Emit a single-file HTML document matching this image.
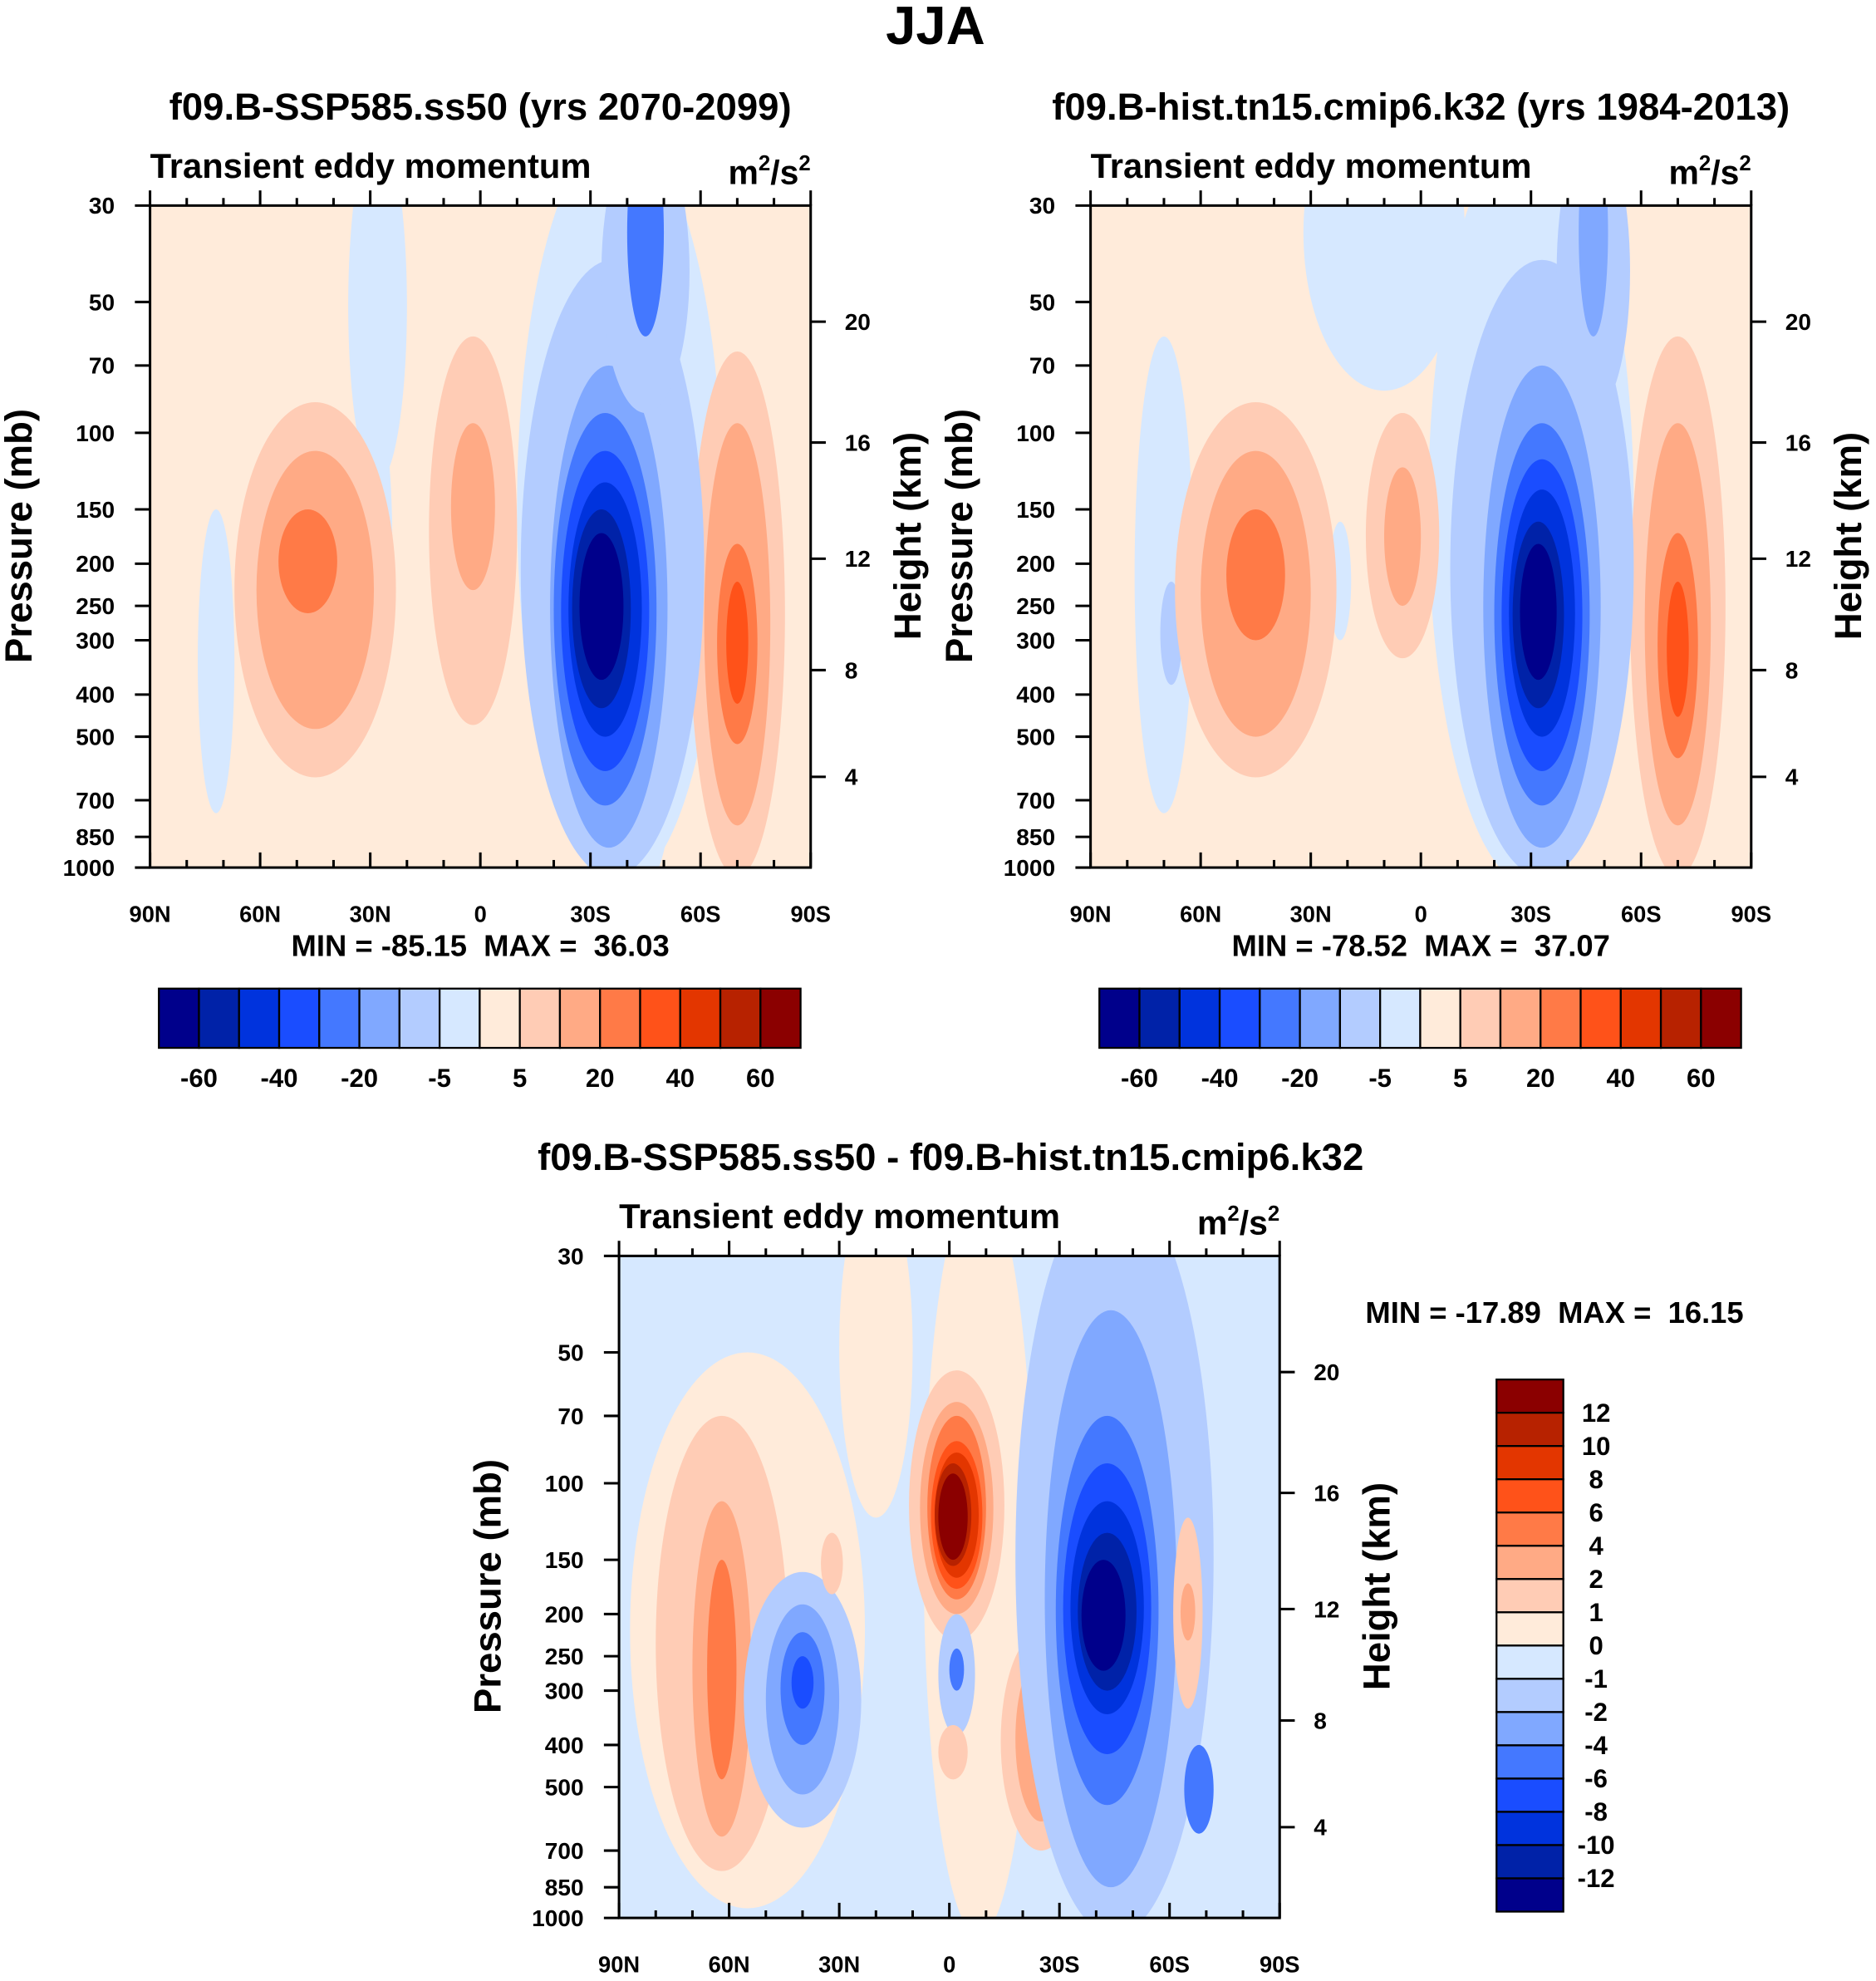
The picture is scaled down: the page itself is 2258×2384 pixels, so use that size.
<!DOCTYPE html>
<html><head><meta charset="utf-8"><style>
html,body{margin:0;padding:0;background:#fff}
svg{display:block}
text{font-family:"Liberation Sans",sans-serif;font-weight:bold;fill:#000;white-space:pre}
</style></head><body>
<svg id="fig" width="2258" height="2384" viewBox="0 0 1488 1571" xmlns="http://www.w3.org/2000/svg">
<text x="742" y="35" font-size="43" text-anchor="middle">JJA</text>
</svg>
<script>
// ----- chart data -----
const palette = ["#00008b","#0022a8","#0033dd","#1a4dff","#4478ff","#80a8ff","#b3ccff","#d6e8ff","#ffebda","#ffccb5","#ffaa85","#ff7a47","#ff5219","#e33600","#b72200","#8b0000"];
const pressureTicks = [30,50,70,100,150,200,250,300,400,500,700,850,1000];
const heightTicks = [20,16,12,8,4];
const latTicks = [90,60,30,0,-30,-60,-90];
const latLabels = ["90N","60N","30N","0","30S","60S","90S"];
const fullBarLabels = ["-60","-40","-20","-5","5","20","40","60"];
const diffBarLabels = ["12","10","8","6","4","2","1","0","-1","-2","-4","-6","-8","-10","-12"];

// Panel 1 (SSP585) blobs: center lat, half-width deg, top p, bottom p, color level
const p1Bg = 8;
const p1Lat  = [ -38, -45,  72,  28,  28,  45,  45,  47,   2,   2, -70, -70, -70, -70, -36, -35, -34, -34, -34, -33, -33, -45, -45];
const p1Half = [  28,  12,   5,   4,   8,  22,  16,   8,  12,   6,  13,  9,   5.5,  3,  25,  16,  14,  12,  10,   8,   6,  12,   5];
const p1Top  = [  20,  20, 150,  90,  20,  85, 110, 150,  60,  95,  65, 95, 180, 220,  40,  70,  90, 110, 130, 150, 170,  20,  20];
const p1Bot  = [1100,1100, 750, 350,  130, 620, 480, 260, 470, 230,1050, 800, 520, 420,1050, 900, 720, 600, 500, 430, 370,  90,  60];
const p1Lev  = [   7,   7,   7,   7,   7,   9,  10,  11,   9,  10,   9,  10,  11,  12,   6,   5,   4,   3,   2,   1,   0,   6,   4];

// Panel 2 (hist) blobs
const p2Bg = 8;
const p2Lat  = [ -30,  10,  70,  68,  22,  45,  45,  45,   5,   5, -70, -70, -70, -70, -33, -33, -33, -33, -33, -32, -32, -47, -47];
const p2Half = [  28,  22,   8,   3,   3,  22,  15,   8,  10,   5,  13,  9,   5.5,  3,  25,  16,  13,  11,   9,   7,   5,  10,   4];
const p2Top  = [  20,  15,  60, 220, 160,  85, 110, 150,  90, 120,  60, 95, 170, 220,  40,  70,  95, 115, 135, 160, 180,  20,  20];
const p2Bot  = [1100,  80, 750, 380, 300, 620, 500, 300, 330, 250,1050, 800, 560, 450,1050, 900, 720, 600, 500, 430, 370,  90,  60];
const p2Lev  = [   7,   7,   7,   6,   7,   9,  10,  11,   9,  10,   9,  10,  11,  12,   6,   5,   4,   3,   2,   1,   0,   6,   5];

// Panel 3 (difference) blobs
const p3Bg = 7;
const p3Lat  = [  55,  20,  -8,  62,  62,  62,  40,  40,  40,  40,  -2,  -2,  -2,  -2,  -2,  -1,  -1,  -1,  -2,  -2, -25, -25, -26,  32,  -1, -45, -44, -43, -43, -43, -43, -42, -65, -65, -68];
const p3Half = [  32,  10,  15,  18,  8,   4,  16,  10,   6,   3,  13,  10,   8,   7,   6,   5,  4,   3,   5,  2,  11,   7,   3,   3,   4,  27,  18,  14,  12,  10,   8,   6,   4,   2,   4];
const p3Top  = [  50,  20,  20,  70, 110, 150, 160, 190, 220, 250,  55,  65,  70,  80,  85,  90,  95, 100, 200, 240, 220, 250, 290, 130, 360,  20,  40,  70,  90, 110, 130, 150, 120, 170, 400];
const p3Bot  = [ 950, 120, 1100, 780, 650, 480, 620, 520, 400, 330, 230, 200, 185, 175, 165, 155, 150, 145, 380, 300, 700, 600, 470, 180, 480,1100, 850, 550, 420, 340, 300, 270, 330, 230, 640];
const p3Lev  = [   8,   8,   8,   9,  10,  11,   6,   5,   4,   3,   9,  10,  11,  12,  13,  14,  15,  15,   6,   4,   9,  10,  11,   9,   9,   6,   5,   4,   3,   2,   1,   0,   9,  10,   4];

// ----- drawing -----
const NS = "http://www.w3.org/2000/svg";
const svg = document.getElementById("fig");
function mk(tag, attrs, parent){
  const e = document.createElementNS(NS, tag);
  for (const k in attrs) e.setAttribute(k, attrs[k]);
  (parent||svg).appendChild(e); return e;
}
function txt(s, x, y, size, anchor, parent){
  const t = mk("text", {x:x, y:y, "font-size":size, "text-anchor":anchor||"middle"}, parent);
  t.textContent = s; return t;
}

function drawPanel(id, X0, Y0, title, titleX, bg, lat, half, top, bot, lev){
  const W = 524, H = 525;
  const xs = l => X0 + (90 - l) / 180 * W;
  const ys = p => Y0 + Math.log(p/30) / Math.log(1000/30) * H;
  const yh = h => Y0 + 533.9 - 19.75*h - 0.117*h*h;
  const g = mk("g", {});
  
  
  const t1 = txt(title, titleX, Y0 - 68, 30, "middle", g);
  
  
  const t2 = txt("Transient eddy momentum", X0, Y0 - 22, 27.5, "start", g);
  
  
  const u = mk("text", {x:X0+W, y:Y0-17, "font-size":27, "text-anchor":"end"}, g);
  u.innerHTML = 'm<tspan dy="-11" font-size="17">2</tspan><tspan dy="11">/s</tspan><tspan dy="-11" font-size="17">2</tspan>';
  
  
  const cp = mk("clipPath", {id:"clip-"+id}, g);
  mk("rect", {x:X0, y:Y0, width:W, height:H}, cp);
  const field = mk("g", {"clip-path":"url(#clip-"+id+")"}, g);
  
  
  const bgr = mk("rect", {x:X0, y:Y0, width:W, height:H, fill:palette[bg]}, field);
  
  
  for (let i = 0; i < lat.length; i++){
    const yt = ys(top[i]), yb = ys(bot[i]);
    const e = mk("ellipse", {cx:xs(lat[i]), cy:(yt+yb)/2, rx:half[i]/180*W, ry:(yb-yt)/2, fill:palette[lev[i]]}, field);
    
    
  }
  const frame = mk("rect", {x:X0, y:Y0, width:W, height:H, fill:"none", stroke:"#000", "stroke-width":2}, g);
  
  
  for (let l = 90; l >= -90; l -= 10){
    const major = (l % 30 === 0);
    const x = xs(l), len = major ? 12 : 6;
    mk("line", {x1:x, y1:Y0+H, x2:x, y2:Y0+H-len, stroke:"#000", "stroke-width":2}, g);
    mk("line", {x1:x, y1:Y0, x2:x, y2:Y0-len, stroke:"#000", "stroke-width":2}, g);
  }
  latTicks.forEach((l, i) => {
    const t = txt(latLabels[i], xs(l), Y0+H+43, 18, "middle", g);
    
    
  });
  pressureTicks.forEach(p => {
    const y = ys(p);
    mk("line", {x1:X0, y1:y, x2:X0-12, y2:y, stroke:"#000", "stroke-width":2}, g);
    const t = txt(String(p), X0-28, y+6.5, 18.5, "end", g);
    
    
  });
  heightTicks.forEach(h => {
    const y = yh(h);
    mk("line", {x1:X0+W, y1:y, x2:X0+W+12, y2:y, stroke:"#000", "stroke-width":2}, g);
    const t = txt(String(h), X0+W+27, y+6.5, 18.5, "start", g);
    
    
  });
  const yl = txt("Pressure (mb)", 0, 0, 30, "middle", g);
  yl.setAttribute("transform", `translate(${X0-94},${Y0+262}) rotate(-90)`);
  
  
  const yr = txt("Height (km)", 0, 0, 30, "middle", g);
  yr.setAttribute("transform", `translate(${X0+W+87},${Y0+262}) rotate(-90)`);
  
  
}

function hBar(id, X, Y, labels){
  const g = mk("g", {});
  
  
  const bw = 509/16;
  for (let i = 0; i < 16; i++){
    const r = mk("rect", {x:X+i*bw, y:Y, width:bw, height:47, fill:palette[i], stroke:"#000", "stroke-width":1.5}, g);
    
    
  }
  labels.forEach((s, i) => {
    const t = txt(s, X + (2*i+1)*bw, Y+78, 20.5, "middle", g);
    
    
  });
}

drawPanel("panel-ssp585", 119, 163, "f09.B-SSP585.ss50 (yrs 2070-2099)", 381, p1Bg, p1Lat, p1Half, p1Top, p1Bot, p1Lev);
drawPanel("panel-hist", 865, 163, "f09.B-hist.tn15.cmip6.k32 (yrs 1984-2013)", 1127, p2Bg, p2Lat, p2Half, p2Top, p2Bot, p2Lev);
drawPanel("panel-diff", 491, 996, "f09.B-SSP585.ss50 - f09.B-hist.tn15.cmip6.k32", 754, p3Bg, p3Lat, p3Half, p3Top, p3Bot, p3Lev);

let m;
m = txt("MIN = -85.15  MAX =  36.03", 381, 758, 24);  
m = txt("MIN = -78.52  MAX =  37.07", 1127, 758, 24);  
m = txt("MIN = -17.89  MAX =  16.15", 1233, 1049, 24);  

hBar("colorbar-ssp585", 126, 784, fullBarLabels);
hBar("colorbar-hist", 872, 784, fullBarLabels);

const vg = mk("g", {});


const bh = 422/16;
for (let i = 0; i < 16; i++){
  const r = mk("rect", {x:1187, y:1094+i*bh, width:53, height:bh, fill:palette[15-i], stroke:"#000", "stroke-width":1.5}, vg);
  
  
}
diffBarLabels.forEach((s, i) => {
  const t = txt(s, 1266, 1094+(i+1)*bh+7, 20.5, "middle", vg);
  
  
});
</script>
</body></html>
